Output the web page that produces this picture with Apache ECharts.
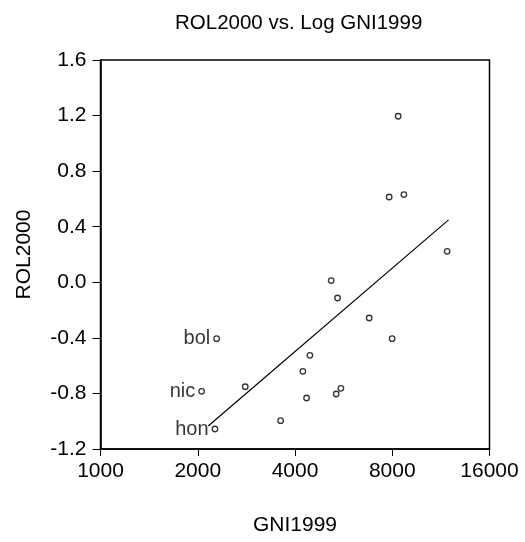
<!DOCTYPE html>
<html><head><meta charset="utf-8">
<script src="https://cdn.jsdelivr.net/npm/echarts@6/dist/echarts.min.js"></script>
<style>html,body{margin:0;padding:0;background:#fff}#c{width:525px;height:542px}</style>
</head><body><div id="c"></div>
<script>
// GNI1999 values and ROL2000 values
const gni = [8345, 7826, 8690, 11830, 5177, 5418, 6788, 7993, 2288, 4448, 4231, 2806, 2056, 5548, 5364, 4344, 3610, 2261];
const rol = [1.195, 0.614, 0.631, 0.223, 0.012, -0.113, -0.257, -0.406, -0.406, -0.526, -0.641, -0.752, -0.785, -0.763, -0.804, -0.833, -0.996, -1.056];
const names = ['', '', '', '', '', '', '', '', 'bol', '', '', '', 'nic', '', '', '', '', 'hon'];
// fitted line endpoints
const fitGni = [2155, 11950];
const fitRol = [-1.035, 0.449];
const xTicks = [1000, 2000, 4000, 8000, 16000];
const yTicks = [-1.2, -0.8, -0.4, 0.0, 0.4, 0.8, 1.2, 1.6];

const lg = v => Math.log2(v / xTicks[0]);
const font = 'Liberation Sans, Arial, sans-serif';
const chart = echarts.init(document.getElementById('c'));
chart.setOption({
  animation: false,
  backgroundColor: '#fff',
  title: {
    text: 'ROL2000 vs. Log GNI1999', left: 170, top: 8,
    textStyle: {fontFamily: font, fontSize: 20.5, fontWeight: 'normal', color: '#000'}
  },
  grid: {left: 100.5, right: 35.5, top: 60, bottom: 93, show: true, borderColor: '#000', borderWidth: 1.5, backgroundColor: '#fff'},
  xAxis: {
    type: 'value', min: 0, max: xTicks.length - 1, interval: 1,
    name: 'GNI1999', nameLocation: 'middle', nameGap: 66,
    nameTextStyle: {fontFamily: font, fontSize: 21, color: '#000'},
    axisLine: {show: true, onZero: false, lineStyle: {color: '#000', width: 1.5}},
    axisTick: {show: true, inside: false, length: 7, lineStyle: {color: '#000'}},
    axisLabel: {margin: 12, fontFamily: font, fontSize: 21, color: '#000',
      formatter: v => String(Math.round(xTicks[0] * Math.pow(2, v)))},
    splitLine: {show: false}
  },
  yAxis: {
    type: 'value', min: yTicks[0], max: yTicks[yTicks.length - 1], interval: 0.4,
    name: 'ROL2000', nameLocation: 'middle', nameGap: 66,
    nameTextStyle: {fontFamily: font, fontSize: 21, color: '#000'},
    axisLine: {show: true, onZero: false, lineStyle: {color: '#000', width: 1.5}},
    axisTick: {show: true, inside: false, length: 8, lineStyle: {color: '#000'}},
    axisLabel: {margin: 14, fontFamily: font, fontSize: 21, color: '#000',
      formatter: v => v.toFixed(1)},
    splitLine: {show: false}
  },
  series: [
    {
      type: 'line', data: fitGni.map((g, i) => [lg(g), fitRol[i]]),
      symbol: 'none', lineStyle: {color: '#000', width: 1.2}, z: 2
    },
    {
      type: 'scatter', data: gni.map((g, i) => ({value: [lg(g), rol[i]], name: names[i]})),
      symbol: 'circle', symbolSize: 5.5,
      itemStyle: {color: '#fff', borderColor: '#000', borderWidth: 1.3},
      label: {show: true, position: 'left', distance: 3, formatter: p => p.name,
        fontFamily: font, fontSize: 20, color: '#000'},
      z: 3
    }
  ]
});
</script></body></html>
